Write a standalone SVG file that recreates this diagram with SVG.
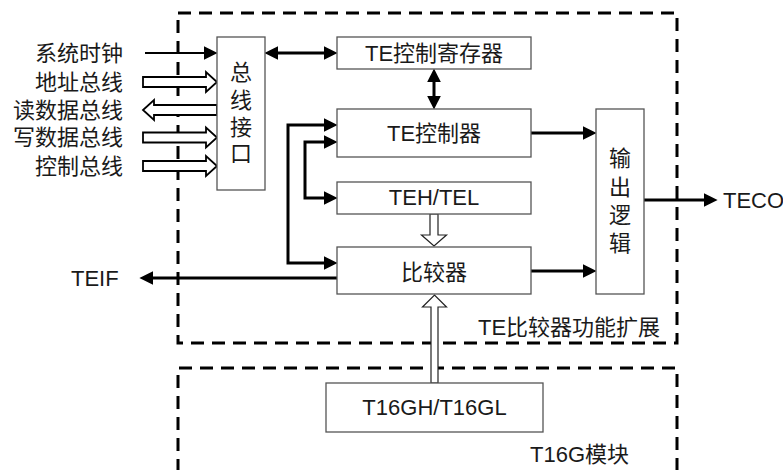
<svg xmlns="http://www.w3.org/2000/svg" width="783" height="470" viewBox="0 0 783 470">
<defs>
<style>
text{font-family:"Liberation Sans","Noto Sans CJK SC",sans-serif;font-size:22px;fill:#1a1a1a}
.c{text-anchor:middle}
.e{text-anchor:end}
.box{fill:#fff;stroke:#555;stroke-width:1.3}
.dash{fill:none;stroke:#000;stroke-width:3;stroke-dasharray:13 8}
.wire{fill:none;stroke:#000;stroke-width:3}
.thin{fill:none;stroke:#000;stroke-width:2.2}
.bus{fill:#fff;stroke:#000;stroke-width:1.8;stroke-linejoin:miter}
.bus2{fill:#fff;stroke:#222;stroke-width:1.2}
</style>
<marker id="ah" markerUnits="userSpaceOnUse" markerWidth="14" markerHeight="14" viewBox="0 0 13 13" refX="5" refY="6.5" orient="auto-start-reverse">
<path d="M0,0L13,6.5L0,13z" fill="#000"/>
</marker>
</defs>

<g id="frames">
<rect class="dash" x="178" y="13" width="499" height="330"/>
<path class="dash" d="M178,472V368H677V472"/>
<text x="478" y="335">TE比较器功能扩展</text>
<text x="530" y="462">T16G模块</text>
</g>

<g id="connectors">
<line class="thin" x1="145" y1="53" x2="209" y2="53" marker-end="url(#ah)"/>
<polygon class="bus" points="143,77 206,77 206,72 217,82 206,92 206,87 143,87"/>
<polygon class="bus" points="217,105 154,105 154,100 143,110 154,120 154,115 217,115"/>
<polygon class="bus" points="143,132.5 206,132.5 206,127.5 217,137.5 206,147.5 206,142.5 143,142.5"/>
<polygon class="bus" points="143,161 206,161 206,156 217,166 206,176 206,171 143,171"/>
<line class="wire" x1="273" y1="53" x2="329" y2="53" marker-start="url(#ah)" marker-end="url(#ah)"/>
<line class="wire" x1="434" y1="77" x2="434" y2="101" marker-start="url(#ah)" marker-end="url(#ah)"/>
<line class="wire" x1="531" y1="133" x2="588" y2="133" marker-end="url(#ah)"/>
<line class="wire" x1="531" y1="271" x2="588" y2="271" marker-end="url(#ah)"/>
<line class="wire" x1="644" y1="200" x2="709" y2="200" marker-end="url(#ah)"/>
<line class="wire" x1="338" y1="278" x2="148" y2="278" marker-end="url(#ah)"/>
<path class="wire" d="M329,125H288V263H329" marker-start="url(#ah)" marker-end="url(#ah)"/>
<path class="wire" d="M329,142H305V198H329" marker-start="url(#ah)" marker-end="url(#ah)"/>
<polygon class="bus2" points="430,214 438,214 438,235 446.5,235 434,246 421.5,235 430,235"/>
<polygon class="bus2" points="431,383 438,383 438,307 446.5,307 434.5,295 422.5,307 431,307"/>
</g>

<g id="labels">
<text class="e" x="123" y="61">系统时钟</text>
<text class="e" x="123" y="90">地址总线</text>
<text class="e" x="123" y="118">读数据总线</text>
<text class="e" x="123" y="145">写数据总线</text>
<text class="e" x="123" y="174">控制总线</text>
<text x="71" y="286">TEIF</text>
<text x="723" y="208">TECO</text>
</g>

<g id="bus-interface">
<rect class="box" x="217" y="37" width="48" height="153"/>
<text class="c" x="241" y="80">总</text>
<text class="c" x="241" y="108">线</text>
<text class="c" x="241" y="135">接</text>
<text class="c" x="241" y="161">口</text>
</g>

<g id="te-ctrl-reg">
<rect class="box" x="337" y="37" width="194" height="32"/>
<text class="c" x="434" y="61">TE控制寄存器</text>
</g>

<g id="te-ctrl">
<rect class="box" x="337" y="109" width="194" height="48"/>
<text class="c" x="434" y="141">TE控制器</text>
</g>

<g id="teh-tel">
<rect class="box" x="337" y="182" width="194" height="32"/>
<text class="c" x="434" y="205">TEH/TEL</text>
</g>

<g id="comparator">
<rect class="box" x="337" y="247" width="194" height="47"/>
<text class="c" x="434" y="280">比较器</text>
</g>

<g id="output-logic">
<rect class="box" x="596" y="109" width="48" height="185"/>
<text class="c" x="620" y="166">输</text>
<text class="c" x="620" y="195">出</text>
<text class="c" x="620" y="223">逻</text>
<text class="c" x="620" y="251">辑</text>
</g>

<g id="t16gh-t16gl">
<rect class="box" x="326" y="383" width="217" height="49"/>
<text class="c" x="434.5" y="415">T16GH/T16GL</text>
</g>
</svg>
